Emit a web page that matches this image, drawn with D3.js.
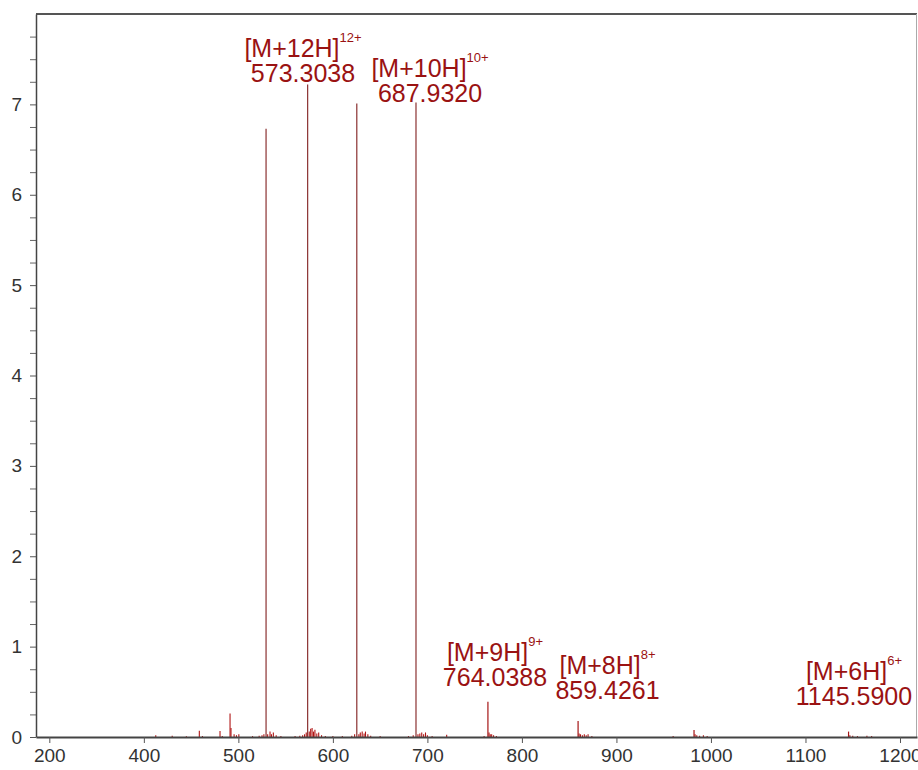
<!DOCTYPE html>
<html>
<head>
<meta charset="utf-8">
<script src="https://cdn.jsdelivr.net/npm/d3@7"></script>
<style>
  html, body { margin: 0; padding: 0; background: #fff; }
  svg { display: block; font-family: "Liberation Sans", Arial, Helvetica, sans-serif; }
</style>
</head>
<body>
<svg id="chart" width="918" height="770"></svg>
<script>
// ---- data ----
const mainPeakMz = [529.3, 573.3038, 625.3, 687.932, 764.0388, 859.4261, 982.1, 1145.59];
const mainPeakIntensity = [6.73, 7.22, 7.01, 7.02, 0.39, 0.177, 0.077, 0.06];

const minorPeakMz = [412.6, 430, 445, 458.7, 462, 480.6, 483, 491.2, 492.2, 495.5, 498, 500.5, 515, 522, 525, 527, 531, 533.5, 535, 537, 540, 545, 560, 565, 568, 570, 571.8, 575, 576.5, 578, 579.5, 581, 583, 585, 588, 592, 600, 610, 620, 623, 627.5, 629, 631, 633, 634.5, 637, 640, 650, 680, 685, 690, 692, 694, 696, 698, 700, 705, 720.4, 760, 765.2, 766.5, 768, 770, 773, 860.5, 862, 864, 866, 868, 870, 874, 960, 983.2, 985, 988, 992, 996, 1147, 1150, 1155, 1165, 1170];
const minorPeakIntensity = [0.02, 0.015, 0.008, 0.07, 0.01, 0.066, 0.01, 0.26, 0.1, 0.03, 0.02, 0.03, 0.01, 0.015, 0.02, 0.03, 0.03, 0.06, 0.03, 0.05, 0.02, 0.01, 0.01, 0.015, 0.02, 0.03, 0.05, 0.06, 0.09, 0.1, 0.06, 0.08, 0.04, 0.05, 0.02, 0.01, 0.01, 0.01, 0.015, 0.03, 0.03, 0.05, 0.06, 0.04, 0.06, 0.03, 0.015, 0.01, 0.01, 0.02, 0.03, 0.04, 0.05, 0.03, 0.05, 0.02, 0.01, 0.025, 0.01, 0.05, 0.03, 0.03, 0.02, 0.01, 0.04, 0.03, 0.02, 0.03, 0.02, 0.03, 0.01, 0.01, 0.03, 0.02, 0.015, 0.02, 0.01, 0.02, 0.015, 0.01, 0.015, 0.01];

const labelIon = ["[M+12H]", "[M+10H]", "[M+9H]", "[M+8H]", "[M+6H]"];
const labelCharge = ["12+", "10+", "9+", "8+", "6+"];
const labelValue = ["573.3038", "687.9320", "764.0388", "859.4261", "1145.5900"];
const labelMz = [568.4, 702.8, 771.5, 890.6, 1151.3];
const labelIntensity = [7.245, 7.024, 0.564, 0.417, 0.354];

const xTickValues = [300, 400, 500, 600, 700, 800, 900, 1000, 1100, 1200];
const xTickLabels = ["200", "400", "500", "600", "700", "800", "900", "1000", "1100", "1200"];
const yTickValues = [0, 1, 2, 3, 4, 5, 6, 7];
const xDomain = [285.9, 1218];
const yDomain = [0, 8];

// ---- drawing ----
const svg = d3.select("#chart");
const margin = { left: 36, right: 1, top: 14, bottom: 33 };
const W = 918, H = 770;
const x = d3.scaleLinear().domain(xDomain).range([margin.left, W - margin.right]);
const y = d3.scaleLinear().domain(yDomain).range([H - margin.bottom, margin.top]);

const red = "#9a1212";

// frame: top (dark) and right (light)
svg.append("line").attr("x1", x.range()[0]).attr("x2", x.range()[1])
  .attr("y1", y.range()[1]).attr("y2", y.range()[1])
  .attr("stroke", "#555").attr("stroke-width", 1.8);
svg.append("line").attr("x1", x.range()[1] - 0.5).attr("x2", x.range()[1] - 0.5)
  .attr("y1", y.range()[1]).attr("y2", y.range()[0])
  .attr("stroke", "#aaa").attr("stroke-width", 1);

// peaks
const peaksG = svg.append("g");
const minor = minorPeakMz.map((m, i) => ({ mz: m, v: minorPeakIntensity[i] }));
const main = mainPeakMz.map((m, i) => ({ mz: m, v: mainPeakIntensity[i] }));

peaksG.selectAll("line.minor").data(minor).join("line").attr("class", "minor")
  .attr("x1", d => x(d.mz)).attr("x2", d => x(d.mz))
  .attr("y1", y(0)).attr("y2", d => y(d.v))
  .attr("stroke", "#b01515").attr("stroke-width", 1.1);

peaksG.selectAll("line.main").data(main).join("line").attr("class", "main")
  .attr("x1", d => x(d.mz)).attr("x2", d => x(d.mz))
  .attr("y1", y(0)).attr("y2", d => y(d.v))
  .attr("stroke", d => d.v > 1 ? "#8a3030" : "#a51515").attr("stroke-width", 1.2);

// axes
const xAxis = d3.axisBottom(x).tickValues(xTickValues)
  .tickFormat((d, i) => xTickLabels[i]).tickSize(6).tickSizeOuter(0).tickPadding(6);
const gx = svg.append("g").attr("transform", `translate(0,${y.range()[0]})`).call(xAxis);
gx.select(".domain").attr("stroke", "#444").attr("stroke-width", 2);
gx.selectAll(".tick line").attr("stroke", "#555").attr("stroke-width", 1);
gx.selectAll(".tick text").attr("fill", "#333").style("font-size", "19px")
  .style("font-family", "Liberation Sans, Arial, sans-serif");

// minor y ticks
const yMinor = d3.range(0, 32).map(i => i * 0.25).filter(v => v % 1 !== 0 && v < 8);
const yAxisMinor = d3.axisLeft(y).tickValues(yMinor).tickFormat("").tickSize(6).tickSizeOuter(0);
const gym = svg.append("g").attr("transform", `translate(${x.range()[0]},0)`).call(yAxisMinor);
gym.select(".domain").remove();
gym.selectAll(".tick line").attr("stroke", "#666");

const yAxis = d3.axisLeft(y).tickValues(yTickValues).tickFormat(d3.format("d"))
  .tickSize(6).tickSizeOuter(0).tickPadding(8);
const gy = svg.append("g").attr("transform", `translate(${x.range()[0]},0)`).call(yAxis);
gy.select(".domain").attr("stroke", "#444").attr("stroke-width", 1.5);
gy.selectAll(".tick line").attr("stroke", "#555");
gy.selectAll(".tick text").attr("fill", "#333").style("font-size", "19px")
  .style("font-family", "Liberation Sans, Arial, sans-serif");

// annotations
const ann = labelIon.map((t, i) => ({ ion: t, z: labelCharge[i], val: labelValue[i], mz: labelMz[i], v: labelIntensity[i] }));
const ag = svg.append("g").attr("fill", red);
ann.forEach(d => {
  const cx = x(d.mz), by = y(d.v);
  const t1 = ag.append("text").attr("x", cx).attr("y", by - 25).attr("text-anchor", "middle")
    .style("font-size", "25px");
  t1.append("tspan").text(d.ion);
  t1.append("tspan").attr("dy", -15).style("font-size", "13px").text(d.z);
  ag.append("text").attr("x", cx).attr("y", by).attr("text-anchor", "middle")
    .style("font-size", "25px").text(d.val);
});
</script>
</body>
</html>
